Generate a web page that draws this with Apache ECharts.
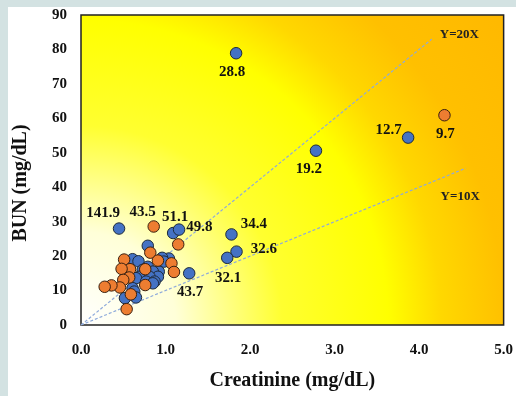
<!DOCTYPE html>
<html>
<head>
<meta charset="utf-8">
<script src="https://cdn.jsdelivr.net/npm/echarts@6/dist/echarts.min.js"></script>
<style>
  html, body { margin: 0; padding: 0; background: #fff; }
  #main { width: 516px; height: 396px; }
</style>
</head>
<body>
<div id="main"></div>
<script>
// BUN vs Creatinine scatter, two groups + ratio reference lines

// blue group  [creatinine, BUN]
const blueData = [
  [0.45, 28.0], [1.09, 26.7], [1.16, 27.7], [0.79, 23.0], [0.61, 19.1],
  [0.68, 18.5], [1.04, 19.3], [0.96, 19.5], [0.98, 18.4], [0.92, 15.5],
  [0.73, 16.0], [0.79, 16.9], [0.85, 15.5], [0.91, 14.0], [0.81, 14.0],
  [0.69, 14.0], [0.65, 13.6], [0.77, 12.6], [0.87, 12.6], [0.85, 12.1],
  [0.61, 10.7], [0.63, 9.7], [0.52, 7.8], [0.65, 8.0],
  [1.28, 15.0], [1.78, 26.3], [1.84, 21.3], [1.73, 19.5],
  [1.835, 78.9], [2.78, 50.6], [3.87, 54.4]
];
const blueLabels = [
  '141.9', '51.1', '49.8', '', '',
  '', '', '', '', '',
  '', '', '', '', '',
  '', '', '', '', '',
  '', '', '', '',
  '43.7', '34.4', '32.6', '32.1',
  '28.8', '19.2', '12.7'
];

// orange group
const orangeData = [
  [0.86, 28.6], [1.15, 23.4], [0.82, 21.0], [0.91, 18.7], [1.07, 17.9],
  [1.10, 15.4], [0.51, 19.0], [0.58, 16.2], [0.48, 16.3], [0.57, 13.8],
  [0.50, 13.1], [0.46, 10.9], [0.36, 11.5], [0.28, 11.1], [0.76, 11.6],
  [0.76, 16.2], [0.59, 8.9], [0.54, 4.6], [4.30, 60.9]
];
const orangeLabels = [
  '43.5', '', '', '', '',
  '', '', '', '', '',
  '', '', '', '', '',
  '', '', '', '9.7'
];

// reference lines (BUN/Cr ratio)
const line20 = [[0, 0], [4.15, 83]];
const line10 = [[0, 0], [4.55, 45.5]];

const xTicks = [0, 5, 1];   // min, max, interval
const yTicks = [0, 90, 10];

// 标签位置
const labelPlace = {
  '141.9': { pos: 'top', off: [-16, 3] },
  '51.1': { pos: 'top', off: [2, 3] },
  '49.8': { pos: 'right', off: [-4, -2] },
  '43.5': { pos: 'top', off: [-11, 4] },
  '43.7': { pos: 'bottom', off: [1, 0] },
  '34.4': { pos: 'right', off: [-2, -10] },
  '32.6': { pos: 'right', off: [3, -3] },
  '32.1': { pos: 'bottom', off: [1, 2] },
  '28.8': { pos: 'bottom', off: [-4, 0] },
  '19.2': { pos: 'bottom', off: [-7, 0] },
  '12.7': { pos: 'left', off: [5, -7] },
  '9.7': { pos: 'bottom', off: [1, 0] }
};

const serif = "'Liberation Serif', 'Times New Roman', serif";

function withLabels(data, labels) {
  return data.map((d, i) => {
    const t = labels[i];
    if (!t) return d;
    const p = labelPlace[t];
    return {
      value: d,
      label: { show: true, formatter: t, position: p.pos, offset: p.off }
    };
  });
}

const pointLabel = {
  show: false,
  fontFamily: serif,
  fontWeight: 'bold',
  fontSize: 15,
  color: '#111'
};

let myChart = echarts.init(document.getElementById('main'));
var option = {
  animation: false,
  backgroundColor: '#fff',
  graphic: [
    { type: 'rect', shape: { x: 0, y: 0, width: 8, height: 396 }, style: { fill: '#d3e2e2' } },
    { type: 'rect', shape: { x: 0, y: 0, width: 516, height: 7 }, style: { fill: '#d3e2e2' } }
  ],
  grid: {
    left: 81, top: 15, right: 8, bottom: 69,
    show: true,
    borderColor: '#222',
    borderWidth: 1.5,
    backgroundColor: {
      type: 'radial', x: 81, y: 327, r: 530, global: true,
      colorStops: [
        { offset: 0, color: '#ffffff' },
        { offset: 0.18, color: '#ffffd8' },
        { offset: 0.38, color: '#ffff30' },
        { offset: 0.58, color: '#ffff00' },
        { offset: 0.68, color: '#ffd800' },
        { offset: 0.8, color: '#ffc000' },
        { offset: 1, color: '#ffb800' }
      ]
    }
  },
  xAxis: {
    type: 'value',
    min: xTicks[0], max: xTicks[1], interval: xTicks[2],
    axisLine: { show: false },
    axisTick: { show: false },
    splitLine: { show: false },
    axisLabel: {
      formatter: v => v.toFixed(1),
      fontFamily: serif, fontWeight: 'bold', fontSize: 15, color: '#111',
      margin: 18
    },
    name: 'Creatinine (mg/dL)',
    nameLocation: 'middle',
    nameGap: 46,
    nameTextStyle: { fontFamily: serif, fontWeight: 'bold', fontSize: 20, color: '#111' }
  },
  yAxis: {
    type: 'value',
    min: yTicks[0], max: yTicks[1], interval: yTicks[2],
    axisLine: { show: false },
    axisTick: { show: false },
    splitLine: { show: false },
    axisLabel: {
      fontFamily: serif, fontWeight: 'bold', fontSize: 15, color: '#111',
      margin: 14
    },
    name: 'BUN (mg/dL)',
    nameLocation: 'middle',
    nameGap: 50,
    nameTextStyle: { fontFamily: serif, fontWeight: 'bold', fontSize: 20, color: '#111', padding: [0, 26, 0, 0] }
  },
  series: [
    {
      type: 'line',
      data: line20,
      symbol: 'none',
      silent: true,
      z: 1,
      lineStyle: { color: '#8eaadb', width: 1.2, type: [3, 2] },
      endLabel: {
        show: true, formatter: 'Y=20X', distance: 2, offset: [6, -4],
        fontFamily: serif, fontWeight: 'bold', fontSize: 13, color: '#222'
      }
    },
    {
      type: 'line',
      data: line10,
      symbol: 'none',
      silent: true,
      z: 1,
      lineStyle: { color: '#8eaadb', width: 1.2, type: [3, 2] },
      endLabel: {
        show: true, formatter: 'Y=10X', distance: 2, offset: [-27, 28],
        fontFamily: serif, fontWeight: 'bold', fontSize: 13, color: '#222'
      }
    },
    {
      type: 'scatter',
      data: withLabels(blueData, blueLabels),
      symbolSize: 11.5,
      z: 3,
      itemStyle: { color: '#4472c4', borderColor: '#1e2a3a', borderWidth: 1, opacity: 1 },
      label: pointLabel
    },
    {
      type: 'scatter',
      data: withLabels(orangeData, orangeLabels),
      symbolSize: 11.5,
      z: 4,
      itemStyle: { color: '#ed7d31', borderColor: '#3a2010', borderWidth: 1, opacity: 1 },
      label: pointLabel
    }
  ]
};
myChart.setOption(option);
</script>
</body>
</html>
